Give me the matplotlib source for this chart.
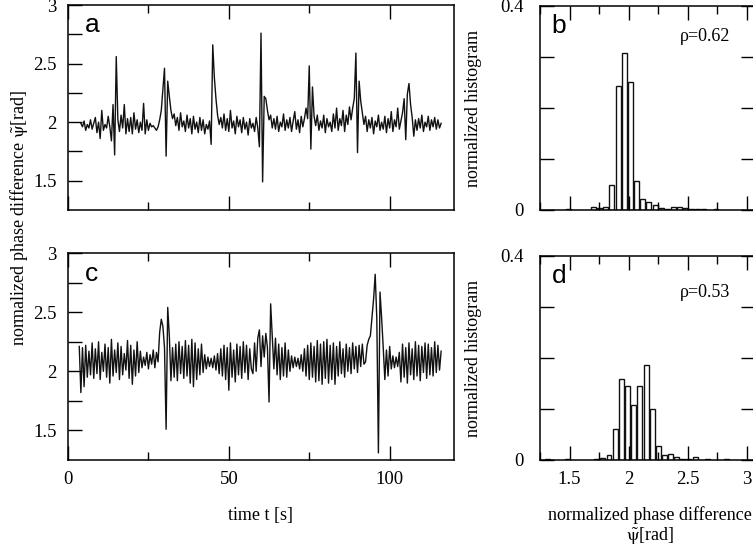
import numpy as np
import matplotlib
matplotlib.use('Agg')
import matplotlib.pyplot as plt

plt.rcParams['font.family'] = ['Liberation Serif', 'DejaVu Serif']
plt.rcParams['mathtext.fontset'] = 'stix'

# time series: sampled every 0.5 s
dt = 0.5
t0_a = 4.0
phase_a = [
    1.99, 1.96, 2.01, 1.93, 1.98, 1.95, 2.02, 1.94, 1.99, 2.04,
    1.91, 2.00, 1.86, 2.10, 1.93, 1.98, 1.95, 2.05, 1.96, 1.84,
    2.15, 1.72, 2.56, 2.02, 1.92, 2.06, 1.95, 2.15, 1.90, 2.03,
    1.92, 2.04, 1.90, 2.08, 1.94, 2.02, 1.91, 2.00, 1.93, 2.16,
    1.90, 2.02, 1.93, 1.99, 1.96, 1.97, 1.95, 1.93, 1.96, 2.02,
    2.10, 2.28, 2.46, 1.71, 2.35, 2.22, 2.10, 2.03, 2.07, 1.97,
    2.04, 1.93, 2.08, 1.96, 2.01, 1.92, 2.06, 1.95, 2.03, 1.90,
    2.05, 1.94, 2.00, 1.91, 2.04, 1.93, 2.02, 1.90, 1.98, 1.94,
    2.01, 1.81, 2.66, 2.38, 2.20, 2.06, 1.98, 2.04, 1.95, 2.07,
    1.93, 2.03, 1.92, 2.10, 1.95, 2.01, 1.90, 2.05, 1.96, 2.02,
    1.91, 2.04, 1.94, 2.00, 1.89, 2.03, 1.95, 1.99, 1.92, 2.04,
    1.95, 1.79, 2.76, 1.49, 2.22, 2.20, 2.10, 2.02, 2.06, 1.95,
    2.03, 1.94, 2.05, 1.92, 2.00, 1.96, 2.07, 1.93, 2.02, 1.95,
    2.04, 1.92, 2.01, 2.09, 1.94, 2.02, 1.91, 2.05, 1.96, 2.03,
    2.12, 2.03, 2.48, 1.77, 2.30, 2.05, 1.97, 2.06, 1.93, 2.01,
    1.95, 2.06, 1.91, 2.03, 1.96, 2.00, 1.92, 2.07, 1.95, 2.12,
    1.93, 2.03, 1.97, 2.10, 1.92, 2.06, 1.98, 2.13, 2.02, 2.12,
    2.20, 2.59, 1.74, 2.35, 2.18, 2.08, 1.98, 2.05, 1.92, 2.02,
    1.95, 2.04, 1.90, 2.01, 1.96, 2.06, 1.93, 2.00, 1.94, 2.05,
    1.91, 2.03, 1.95, 2.09, 1.92, 2.02, 1.96, 2.12, 1.94, 2.01,
    2.08, 2.20, 1.85, 2.24, 2.33, 2.15, 2.04, 1.88, 2.02, 1.93,
    2.03, 1.95, 2.06, 1.92, 2.00, 1.96, 2.05, 1.93, 2.02, 1.96,
    2.04, 1.94, 2.02, 1.95, 1.99,
]

t0_c = 3.5
phase_c = [
    2.21, 1.82, 2.20, 1.87, 2.22, 1.95, 2.17, 1.97, 2.24, 1.94,
    2.19, 1.98, 2.25, 1.93, 2.16, 2.00, 2.23, 1.95, 2.20, 1.90,
    2.27, 1.96, 2.18, 1.99, 2.24, 1.93, 2.21, 1.97, 2.15, 2.01,
    2.26, 1.94, 2.22, 1.89, 2.18, 1.96, 2.25, 1.99, 2.17, 2.03,
    2.12, 2.05, 2.16, 2.02, 2.14, 2.06, 2.18, 2.03,
    2.16, 2.08, 2.33, 2.44, 2.38, 2.20, 1.51, 2.54, 2.30, 1.92,
    2.20, 1.95, 2.23, 1.92, 2.25, 1.98, 2.21, 1.94, 2.26, 1.96,
    2.22, 1.90, 2.27, 1.87, 2.24, 1.93, 2.19, 1.97, 2.23, 1.99,
    2.14, 2.02, 2.12, 2.04, 2.11, 2.03, 2.13, 2.01, 2.15, 1.98,
    2.19, 1.96, 2.22, 1.93, 2.20, 1.84, 2.24, 1.95, 2.18, 1.91,
    2.23, 1.97, 2.21, 1.94, 2.25, 1.99, 2.22, 1.93, 2.19, 2.02, 1.98,
    2.24, 2.00, 2.28, 2.35, 2.04, 2.30, 2.12, 2.32, 2.20, 1.74,
    2.57, 2.30, 2.02, 2.28, 1.97, 2.23, 1.93, 2.20, 1.96, 2.24,
    1.95, 2.18, 2.00, 2.13, 2.03, 2.12, 2.04, 2.11, 2.02, 2.14,
    2.00, 2.19, 1.96, 2.22, 1.93, 2.24, 1.95, 2.21, 1.91, 2.26,
    1.92, 2.23, 1.89, 2.25, 1.94, 2.27, 1.90, 2.22, 1.93, 2.24,
    1.89, 2.21, 1.96, 2.25, 1.98, 2.19, 1.95, 2.23, 2.00, 2.20,
    1.98, 2.24, 2.02, 2.21, 1.99, 2.22, 2.04, 2.23, 2.06, 2.08,
    2.22, 2.27, 2.30, 2.46, 2.61, 2.82, 2.45, 1.31, 2.67, 2.45,
    2.20, 1.93, 2.18, 1.96, 2.21, 2.02, 2.13, 2.03, 2.12, 2.04,
    2.16, 1.91, 2.23, 1.95, 2.20, 1.90, 2.24, 1.97, 2.19, 1.93,
    2.25, 1.96, 2.22, 1.92, 2.21, 1.99, 2.24, 1.94, 2.23, 1.97,
    2.20, 1.96, 2.25, 1.99, 2.22, 2.01, 2.17,
]

# histograms: bin centres and normalized counts
hist_b_centers = [1.49, 1.70, 1.75, 1.806, 1.858, 1.911, 1.962, 2.017, 2.069,
                  2.119, 2.17, 2.227, 2.278, 2.33, 2.38, 2.43, 2.48, 2.53,
                  2.58, 2.63, 2.74]
hist_b_values = [0.002, 0.006, 0.004, 0.005, 0.049, 0.243, 0.308, 0.251, 0.056,
                 0.022, 0.016, 0.009, 0.004, 0.002, 0.006, 0.006, 0.004, 0.001,
                 0.001, 0.001, 0.002]
rho_b = '0.62'

hist_d_centers = [1.31, 1.48, 1.73, 1.78, 1.834, 1.886, 1.938, 1.991, 2.043,
                  2.095, 2.149, 2.201, 2.254, 2.30, 2.355, 2.405, 2.455, 2.51,
                  2.564, 2.67, 2.83]
hist_d_values = [0.002, 0.002, 0.002, 0.003, 0.009, 0.061, 0.158, 0.145, 0.107,
                 0.145, 0.187, 0.100, 0.027, 0.009, 0.012, 0.006, 0.002, 0.002,
                 0.006, 0.002, 0.002]
rho_d = '0.53'

ts_yticks = [1.5, 1.75, 2, 2.25, 2.5, 2.75, 3]
ts_ylabels = ['1.5', '', '2', '', '2.5', '', '3']
ts_xticks = [0, 50, 100]
ts_xlabels = ['0', '50', '100']
ts_xminor = [25, 75]
h_xticks = [1.5, 2, 2.5, 3]
h_xlabels = ['1.5', '2', '2.5', '3']
h_xminor = [1.25, 1.75, 2.25, 2.75]
h_yticks = [0, 0.1, 0.2, 0.3, 0.4]
h_ylabels = ['0', '', '', '', '0.4']

W, H = 753, 545
fig = plt.figure(figsize=(W / 100, H / 100), dpi=100)

def box(l, t, r, b):
    return [l / W, 1 - b / H, (r - l) / W, (b - t) / H]

ax_a = fig.add_axes(box(68, 5, 454, 210))
ax_c = fig.add_axes(box(68, 253, 454, 460))
ax_b = fig.add_axes(box(540, 6, 755, 210))
ax_d = fig.add_axes(box(540, 256, 755, 460))

tick_fs = 13.5

def style(ax):
    for s in ax.spines.values():
        s.set_linewidth(1.1)
    ax.tick_params(which='both', direction='in', width=1.0, labelsize=tick_fs)
    ax.tick_params(which='major', length=10, pad=8)
    ax.tick_params(which='minor', length=6)

# time series panels
for ax, t0, vals, letter, show_x in [(ax_a, t0_a, phase_a, 'a', False),
                                     (ax_c, t0_c, phase_c, 'c', True)]:
    t = t0 + dt * np.arange(len(vals))
    ax.plot(t, vals, color='#111111', lw=1.0)
    ax.set_xlim(0, 120)
    ax.set_ylim(1.25, 3.0)
    ax.set_xticks(ts_xticks)
    ax.set_xticklabels(ts_xlabels if show_x else [])
    ax.set_xticks(ts_xminor, minor=True)
    ax.set_yticks(ts_yticks)
    ax.set_yticklabels(ts_ylabels)
    style(ax)
    ax.tick_params(which='both', top=True, right=False)
    ax.tick_params(axis='y', length=10)
    ax.text(0.045, 0.9, letter, transform=ax.transAxes, fontsize=19,
            family='Liberation Sans', va='center', ha='left')

ax_c.set_xlabel('time t [s]', fontsize=13)
ax_c.xaxis.set_label_coords(0.5, -0.225)

fig.text(19 / W, 1 - 218 / H,
         r'normalized phase difference $\tilde{\mathrm{\psi}}$[rad]',
         rotation=90, ha='center', va='center', fontsize=13)

# histogram panels
for ax, cen, vals, letter, rho, show_x in [
        (ax_b, hist_b_centers, hist_b_values, 'b', rho_b, False),
        (ax_d, hist_d_centers, hist_d_values, 'd', rho_d, True)]:
    ax.bar(cen, vals, width=0.042, facecolor='white', edgecolor='#111111',
           linewidth=1.0)
    ax.set_xlim(1.25, 3.07)
    ax.set_ylim(0, 0.4)
    ax.set_xticks(h_xticks)
    ax.set_xticklabels(h_xlabels if show_x else [])
    ax.set_xticks(h_xminor, minor=True)
    ax.set_yticks(h_yticks)
    ax.set_yticklabels(h_ylabels)
    style(ax)
    ax.tick_params(which='both', top=True, right=True)
    ax.tick_params(axis='y', pad=12)
    ax.set_ylabel('normalized histogram', fontsize=13)
    ax.yaxis.set_label_coords(-0.27, 0.5)
    ax.text(0.055, 0.9, letter, transform=ax.transAxes, fontsize=19,
            family='Liberation Sans', va='center', ha='left')
    ax.text(0.885, 0.85 if letter == 'b' else 0.82, 'ρ=' + rho,
            transform=ax.transAxes, fontsize=13, ha='right', va='center')

ax_d.set_xlabel('normalized phase difference\n' + r'$\tilde{\mathrm{\psi}}$[rad]',
                fontsize=13, linespacing=1.1)
ax_d.xaxis.set_label_coords(0.51, -0.225)

fig.savefig('out.png', dpi=100)
